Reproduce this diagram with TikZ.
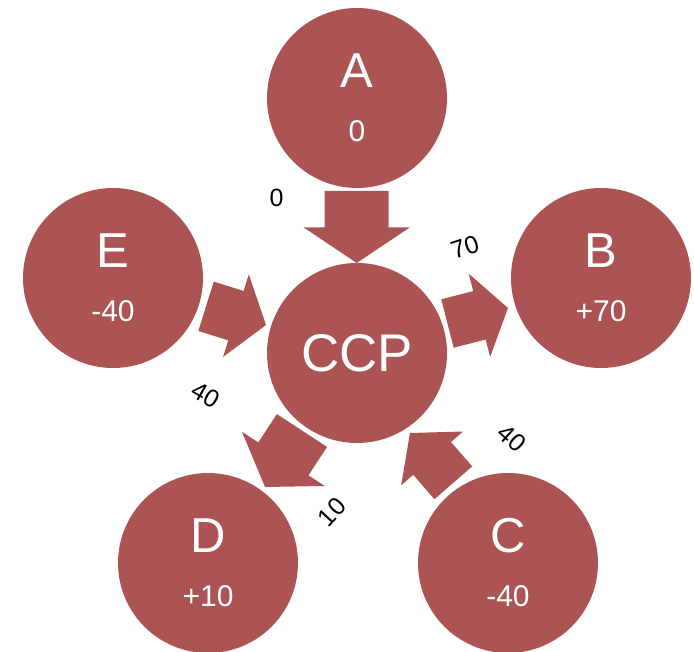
\documentclass[tikz,border=0pt]{standalone}
\usepackage{fontspec}
\setmainfont{Liberation Sans}
\definecolor{disc}{RGB}{171,84,83}
\begin{document}
\begin{tikzpicture}[x=1pt,y=1pt,
  party/.style={circle,fill=disc,minimum size=180pt,inner sep=0pt,text=white},
  big/.style={font=\fontsize{49}{49}\selectfont},
  small/.style={font=\fontsize{30}{30}\selectfont},
  flow/.style={font=\fontsize{25}{25}\selectfont,text=black,inner sep=0pt}]
\useasboundingbox (0,0) rectangle (694,652);
% circles
\node[party] (A) at (357,554) {};
\node[party] (B) at (601,374) {};
\node[party] (C) at (508,89) {};
\node[party] (D) at (208,89) {};
\node[party] (E) at (113,374) {};
\node[party] (CCP) at (357,299) {};
% circle texts
\foreach \n/\l/\v in {A/A/0,B/B/+70,C/C/-40,D/D/+10,E/E/-40}{
  \node[big,text=white] (\n-l) at ([yshift=27pt]\n.center) {\l};
  \node[small,text=white] (\n-v) at ([yshift=-33pt]\n.center) {\v};
}
\node[text=white,font=\fontsize{53}{53}\selectfont] (CCP-l) at (CCP.center) {CCP};
% block arrows: tip, angle, length L, head length h, head width w, shaft width s
\foreach \tx/\ty/\ang/\L/\h/\w/\s in {
  356.7/389/-90/72/35.5/106/64,
  508/344/14.4/62.5/29.5/86/50,
  410/219/131/66/33.7/82/50,
  265/165/236.8/67.5/33.6/99/60,
  266/327/-17.3/62.8/31.5/86.6/51.7}{
  \begin{scope}[shift={(\tx,\ty)},rotate=\ang]
    \fill[disc] (0,0) -- (-\h,\w/2) -- (-\h,\s/2) -- (-\L,\s/2) -- (-\L,-\s/2)
      -- (-\h,-\s/2) -- (-\h,-\w/2) -- cycle;
  \end{scope}
}
% flow labels
\node[flow] (fA) at (276.5,454) {0};
\node[flow,rotate=18] (fB) at (465,405) {70};
\node[flow,rotate=-30] (fE) at (206,257) {40};
\node[flow,rotate=47] (fD) at (332,140) {10};
\node[flow,rotate=-42] (fC) at (512,214) {40};
\end{tikzpicture}
\end{document}
